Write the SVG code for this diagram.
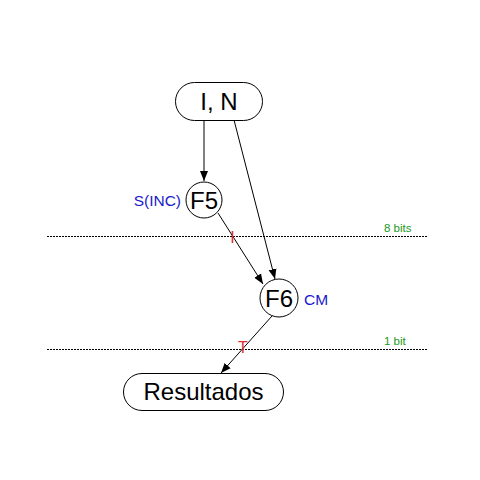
<svg xmlns="http://www.w3.org/2000/svg" width="480" height="480" viewBox="0 0 480 480">
<style>
.node{fill:#fff;stroke:#000;stroke-width:1}
.lbl{font-family:"Liberation Sans",Arial,sans-serif;fill:#000;text-anchor:middle}
.blue{font-family:"Liberation Sans",Arial,sans-serif;fill:#1a1acc;font-size:15.5px}
.green{font-family:"Liberation Sans",Arial,sans-serif;fill:#1a9a1a;font-size:11.5px}
.red{font-family:"Liberation Sans",Arial,sans-serif;fill:#e03030;font-size:16px;text-anchor:middle}
.edge{stroke:#000;stroke-width:1;fill:none;marker-end:url(#ah)}
.dash{stroke:#000;stroke-width:1;stroke-dasharray:2,1}
</style>
<defs>
<marker id="ah" viewBox="0 0 10 10" refX="10" refY="5" markerWidth="10" markerHeight="10" markerUnits="userSpaceOnUse" orient="auto">
<path d="M0,1 L10,5 L0,9 z" fill="#000"/>
</marker>
</defs>
<rect width="480" height="480" fill="#fff"/>
<g id="levels">
<line class="dash" x1="47" y1="236.5" x2="428" y2="236.5"/>
<text class="green" x="384" y="232">8 bits</text>
<line class="dash" x1="47" y1="349.5" x2="428" y2="349.5"/>
<text class="green" x="384" y="345">1 bit</text>
</g>
<g id="connectors">
<line class="edge" x1="204" y1="120" x2="204" y2="181"/>
<line class="edge" x1="234" y1="120" x2="275" y2="279"/>
<line class="edge" x1="218" y1="213" x2="263" y2="284"/>
<line class="edge" x1="272" y1="316" x2="221" y2="373"/>
<text class="red" x="232.5" y="243">I</text>
<text class="red" x="243" y="353">T</text>
</g>
<g id="IN">
<rect class="node" x="175.5" y="82.5" width="87" height="38" rx="19"/>
<text class="lbl" x="219" y="110" font-size="24">I, N</text>
</g>
<g id="F5">
<circle class="node" cx="204" cy="200" r="18"/>
<text class="lbl" x="204" y="209" font-size="24">F5</text>
<text class="blue" x="181" y="206" text-anchor="end">S(INC)</text>
</g>
<g id="F6">
<circle class="node" cx="279" cy="298" r="19"/>
<text class="lbl" x="279" y="307" font-size="24">F6</text>
<text class="blue" x="304" y="305">CM</text>
</g>
<g id="Resultados">
<rect class="node" x="123.5" y="373.5" width="160" height="37" rx="18.5"/>
<text class="lbl" x="203.5" y="400" font-size="24">Resultados</text>
</g>
</svg>
